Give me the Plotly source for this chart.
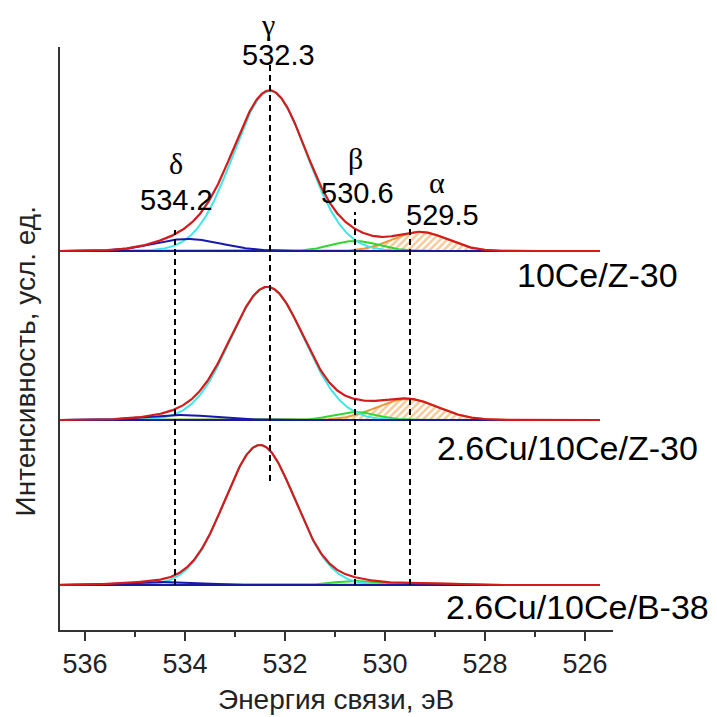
import numpy as np
import plotly.graph_objects as go

# ---------------- data ----------------
samples = ["10Ce/Z-30", "2.6Cu/10Ce/Z-30", "2.6Cu/10Ce/B-38"]
offsets = [379, 210, 45]          # vertical stacking of the spectra (arb. units)

gamma_center = [532.3, 532.35, 532.5]
gamma_height = [160, 133, 140]
gamma_fwhm = [1.73, 1.74, 1.65]

delta_center = [533.95, 534.1, 534.6]
delta_height = [12, 5, 3]
delta_fwhm = [1.6, 1.6, 1.5]

beta_center = [530.6, 530.6, 530.6]
beta_height = [10, 8, 4]
beta_fwhm = [1.1, 1.0, 1.0]

alpha_center = [529.3, 529.55, 529.5]
alpha_height = [19, 21, 2]
alpha_fwhm = [1.3, 1.45, 1.3]

line_positions = [534.2, 532.3, 530.6, 529.5]
line_letters = ["δ", "γ", "β", "α"]
line_numbers = ["534.2", "532.3", "530.6", "529.5"]

x_ticks = [536, 534, 532, 530, 528, 526]

# ---------------- helpers ----------------
E = np.linspace(536.5, 525.7, 700)


def gauss(c, h, w):
    s = w / 2.3548
    return h * np.exp(-0.5 * ((E - c) / s) ** 2)


RED = "#d41a1a"
CYAN = "#3ee8e8"
BLUE = "#1818b0"
GREEN = "#2ed82e"
ORANGE = "#ec9636"
BASE = "#1a1a9a"
SANS = "Arial, Liberation Sans, sans-serif"
SERIF = "Liberation Serif, DejaVu Serif, serif"

fig = go.Figure()

for i, name in enumerate(samples):
    off = offsets[i]
    g = gauss(gamma_center[i], gamma_height[i], gamma_fwhm[i])
    d = gauss(delta_center[i], delta_height[i], delta_fwhm[i])
    b = gauss(beta_center[i], beta_height[i], beta_fwhm[i])
    a = gauss(alpha_center[i], alpha_height[i], alpha_fwhm[i])
    env = g + d + b + a
    base = np.full_like(E, off, dtype=float)

    # hatched alpha area
    fig.add_trace(go.Scatter(
        x=np.concatenate([E, E[::-1]]),
        y=np.concatenate([off + a, base[::-1]]),
        fill="toself", mode="none",
        fillcolor="rgba(255,255,255,0)",
        fillpattern=dict(shape="/", fgcolor=ORANGE, bgcolor="rgba(255,255,255,0)",
                         size=5, solidity=0.5),
        hoverinfo="skip", showlegend=False))
    fig.add_trace(go.Scatter(x=E, y=off + a, mode="lines",
                             line=dict(color=ORANGE, width=2), showlegend=False))
    fig.add_trace(go.Scatter(x=E, y=off + b, mode="lines",
                             line=dict(color=GREEN, width=2), showlegend=False))
    fig.add_trace(go.Scatter(x=E, y=off + g, mode="lines",
                             line=dict(color=CYAN, width=2), showlegend=False))
    fig.add_trace(go.Scatter(x=E, y=off + d, mode="lines",
                             line=dict(color=BLUE, width=2), showlegend=False))
    fig.add_trace(go.Scatter(x=E, y=base, mode="lines",
                             line=dict(color=BASE, width=2), showlegend=False))
    fig.add_trace(go.Scatter(x=E, y=off + env, mode="lines",
                             line=dict(color=RED, width=2.2), showlegend=False))

# dashed guide lines (vertical extents)
line_ymin = [45, 149, 45, 45]
line_ymax = [400, 568, 418, 402]
for xp, y0, y1 in zip(line_positions, line_ymin, line_ymax):
    fig.add_trace(go.Scatter(x=[xp, xp], y=[y0, y1], mode="lines",
                             line=dict(color="black", width=2, dash="6px,4px"),
                             showlegend=False, hoverinfo="skip"))

# peak labels
letter_pos = [(534.18, "y", 467), (532.34, "paper", 1.038), (530.6, "y", 472), (528.96, "y", 448)]
number_pos = [(534.18, 430), (532.14, 575), (530.56, 437), (528.86, 415)]
annotations = []
for lt, (lx, yr, ly) in zip(line_letters, letter_pos):
    annotations.append(dict(x=lx, y=ly, xref="x", yref=yr, text=lt, showarrow=False,
                            xanchor="center", yanchor="middle",
                            font=dict(family=SERIF, size=30, color="black")))
for nm, (nx, ny) in zip(line_numbers, number_pos):
    annotations.append(dict(x=nx, y=ny, xref="x", yref="y", text=nm, showarrow=False,
                            xanchor="center", yanchor="middle",
                            font=dict(family=SANS, size=29, color="black")))

# sample labels
sample_pos = [(1.121, 355), (1.157, 182), (1.177, 23)]
for nm, (sx, sy) in zip(samples, sample_pos):
    annotations.append(dict(x=sx, y=sy, xref="paper", yref="y", text=nm,
                            showarrow=False, xanchor="right", yanchor="middle",
                            font=dict(family=SANS, size=34, color="black")))

# axis titles
annotations.append(dict(x=0.499, y=-0.12, xref="paper", yref="paper",
                        text="Энергия связи, эВ", showarrow=False,
                        xanchor="center", yanchor="middle",
                        font=dict(family=SANS, size=28, color="#222")))
annotations.append(dict(x=-0.063, y=0.461, xref="paper", yref="paper",
                        text="Интенсивность, усл. ед.", showarrow=False, textangle=-90,
                        xanchor="center", yanchor="middle",
                        font=dict(family=SANS, size=28, color="#222")))

fig.update_layout(
    width=709, height=709,
    margin=dict(l=52, r=104, t=39, b=87),
    paper_bgcolor="white", plot_bgcolor="white",
    showlegend=False,
    annotations=annotations,
    xaxis=dict(range=[536.5, 525.44], tickvals=x_ticks,
               ticktext=[str(t) for t in x_ticks],
               showline=True, linecolor="#333", linewidth=2, mirror=False,
               ticks="outside", ticklen=9, tickwidth=2, tickcolor="#333",
               minor=dict(dtick=1, tick0=525, ticks="outside", ticklen=5,
                          tickwidth=2, tickcolor="#333"),
               showgrid=False, zeroline=False,
               tickfont=dict(family=SANS, size=27, color="#222")),
    yaxis=dict(range=[0, 583], showline=True, linecolor="#333", linewidth=2,
               showticklabels=False, ticks="", showgrid=False, zeroline=False),
)

fig.write_html("out.html")
